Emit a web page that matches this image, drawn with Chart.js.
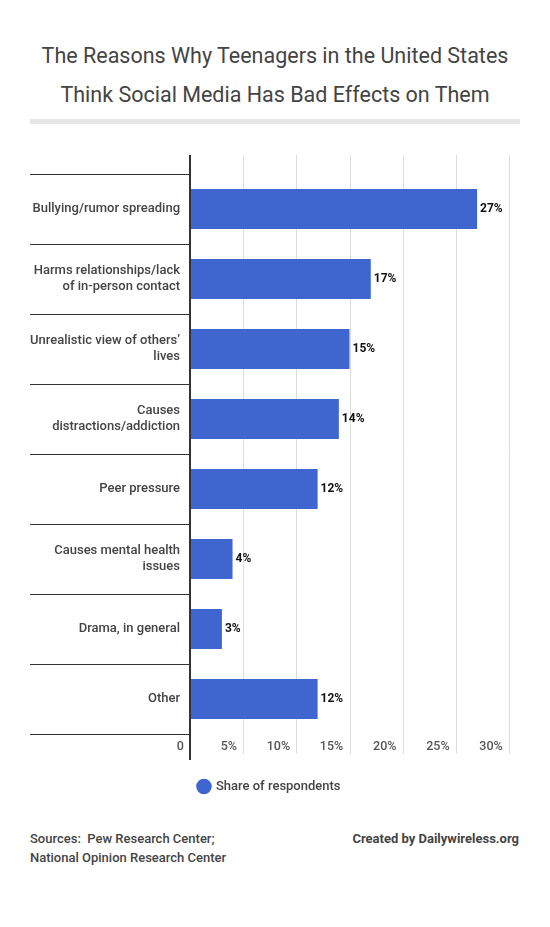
<!DOCTYPE html>
<html>
<head>
<meta charset="utf-8">
<script src="https://cdn.jsdelivr.net/npm/chart.js@4"></script>
<style>
  body { margin: 0; width: 550px; height: 927px; background: #fff; font-family: Roboto, sans-serif; position: relative; overflow: hidden; }
  #title { position: absolute; top: 36px; left: 0; width: 550px; text-align: center; font-size: 21.5px; line-height: 39px; color: #444; }
  #rule { position: absolute; top: 119px; left: 30px; width: 490px; height: 5px; background: #e6e6e6; }
  #chartBox { position: absolute; top: 140px; left: 0; width: 550px; height: 663px; }
  #sources { position: absolute; top: 829px; left: 30px; font-size: 13px; line-height: 19px; color: #444; font-weight: 500; }
  #credit { position: absolute; top: 829px; right: 31px; font-size: 13px; line-height: 19px; color: #444; font-weight: bold; }
</style>
</head>
<body>
<div id="title">The Reasons Why Teenagers in the United States<br>Think Social Media Has Bad Effects on Them</div>
<div id="rule"></div>
<div id="chartBox"><canvas id="reasonsChart"></canvas></div>
<div id="sources">Sources:&nbsp; Pew Research Center;<br>National Opinion Research Center</div>
<div id="credit">Created by Dailywireless.org</div>

<script>
// Data dari grafik
const categories = [
    'Bullying/rumor spreading',
    ['Harms relationships/lack', 'of in-person contact'],
    ['Unrealistic view of others\u2019', 'lives'],
    ['Causes', 'distractions/addiction'],
    'Peer pressure',
    ['Causes mental health', 'issues'],
    'Drama, in general',
    'Other'
];
const shareValues = [27, 17, 15, 14, 12, 4, 3, 12];
const xTicks = [0, 5, 10, 15, 20, 25, 30];
const seriesName = 'Share of respondents';

const barColor = '#3f66ce';

// Plugin: garis pemisah kategori, grid vertikal, garis sumbu dan label nilai
const decorPlugin = {
    id: 'decor',
    beforeDatasetsDraw(chart) {
        const ctx = chart.ctx;
        const x = chart.scales.x;
        const y = chart.scales.y;
        const top = chart.chartArea.top - 19;
        const bottom = x.bottom;
        ctx.save();
        ctx.strokeStyle = '#dcdcdc';
        ctx.lineWidth = 1;
        xTicks.forEach(v => {
            if (v === 0) return;
            const px = Math.round(x.getPixelForValue(v)) + 0.5;
            ctx.beginPath();
            ctx.moveTo(px, top);
            ctx.lineTo(px, bottom);
            ctx.stroke();
        });
        // garis pemisah kategori di sebelah kiri
        const band = y.getPixelForValue(1) - y.getPixelForValue(0);
        ctx.strokeStyle = '#333';
        for (let i = 0; i <= categories.length; i++) {
            const py = Math.round(y.getPixelForValue(i) - band / 2) + 0.5;
            ctx.beginPath();
            ctx.moveTo(30, py);
            ctx.lineTo(x.left, py);
            ctx.stroke();
        }
        ctx.restore();
    },
    afterDatasetsDraw(chart) {
        const ctx = chart.ctx;
        const x = chart.scales.x;
        ctx.save();
        // garis sumbu kiri
        ctx.strokeStyle = '#333';
        ctx.lineWidth = 2;
        const ax = x.getPixelForValue(0);
        ctx.beginPath();
        ctx.moveTo(ax, chart.chartArea.top - 19);
        ctx.lineTo(ax, x.bottom + 6);
        ctx.stroke();
        // label nilai di ujung batang
        ctx.fillStyle = '#111';
        ctx.font = 'bold 12px Roboto';
        ctx.textAlign = 'left';
        ctx.textBaseline = 'middle';
        chart.getDatasetMeta(0).data.forEach((bar, i) => {
            ctx.fillText(shareValues[i] + '%', bar.x + 3, bar.y);
        });
        ctx.restore();
    }
};

const ctx = document.getElementById('reasonsChart').getContext('2d');
const chartInstance = new Chart(ctx, {
    type: 'bar',
    data: {
        labels: categories,
        datasets: [{
            label: seriesName,
            data: shareValues,
            backgroundColor: barColor,
            borderWidth: 0,
            categoryPercentage: 1,
            barPercentage: 0.57
        }]
    },
    options: {
        indexAxis: 'y',
        responsive: true,
        maintainAspectRatio: false,
        animation: false,
        layout: {
            padding: { top: 34, left: 30, right: 41, bottom: 0 }
        },
        scales: {
            x: {
                min: 0,
                max: 30,
                afterBuildTicks: scale => {
                    scale.ticks = xTicks.map(v => ({ value: v }));
                },
                afterFit: scale => { scale.height = 20; },
                grid: { display: false, drawTicks: false },
                border: { display: false },
                ticks: {
                    align: 'end',
                    padding: 5,
                    color: '#555',
                    font: { family: 'Roboto', size: 12.5, weight: '500' },
                    callback: v => (v === 0 ? '0' : v + '%') + '  '
                }
            },
            y: {
                afterFit: scale => { scale.width = 160; },
                grid: { display: false, drawTicks: false },
                border: { display: false },
                ticks: {
                    padding: 10,
                    color: '#444',
                    font: { family: 'Roboto', size: 13, weight: '500' }
                }
            }
        },
        plugins: {
            legend: {
                position: 'bottom',
                labels: {
                    usePointStyle: true,
                    pointStyle: 'circle',
                    boxWidth: 11,
                    boxHeight: 11,
                    padding: 26,
                    color: '#444',
                    font: { family: 'Roboto', size: 13, weight: '500' }
                }
            },
            tooltip: { enabled: false }
        }
    },
    plugins: [decorPlugin]
});
</script>
</body>
</html>
